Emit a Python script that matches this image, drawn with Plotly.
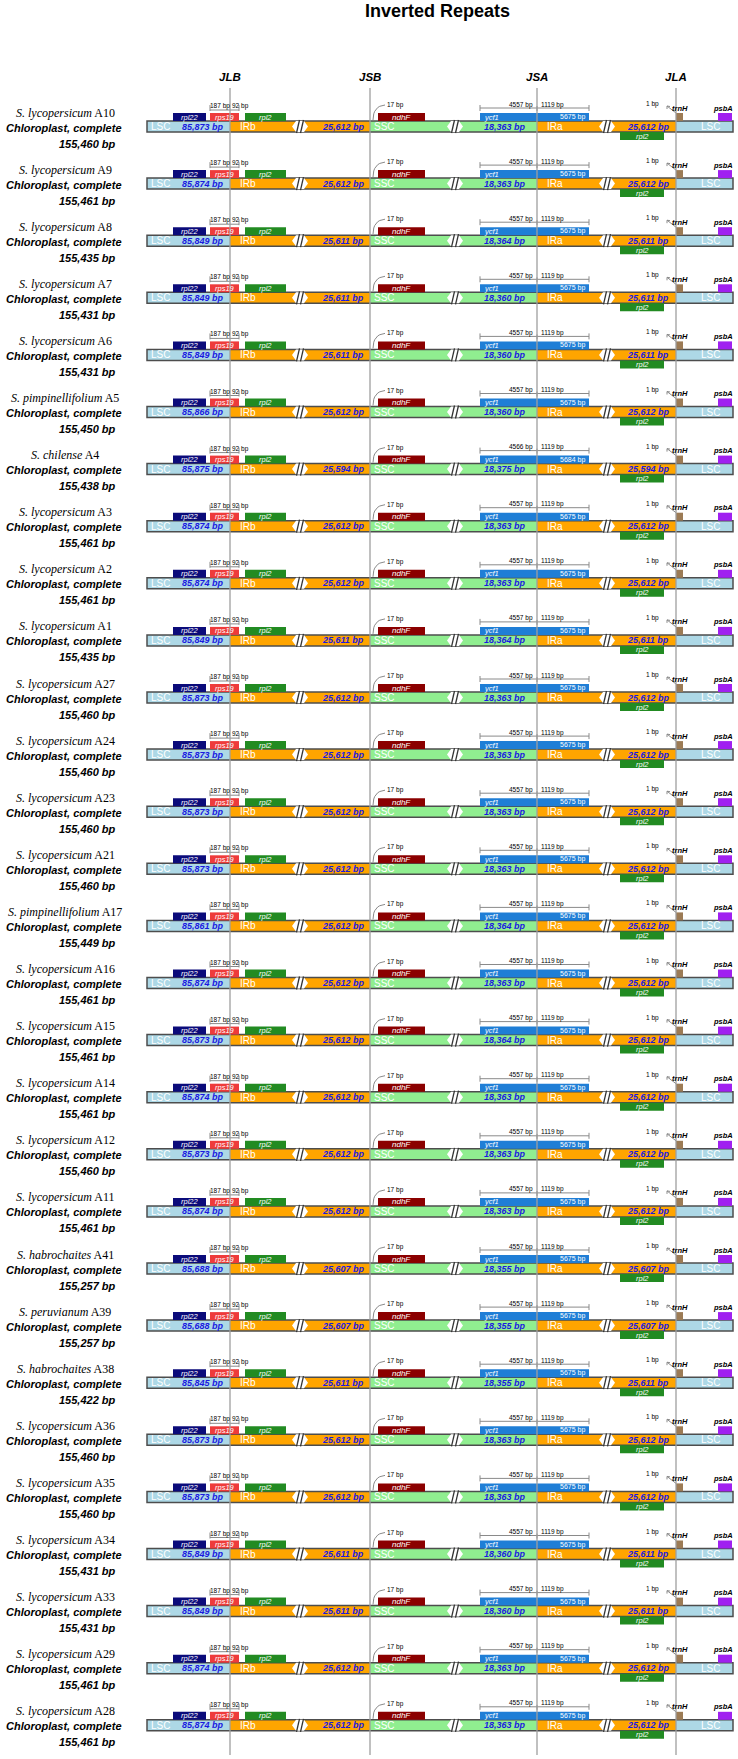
import plotly.graph_objects as go

# ---- data (top row first) ----
species = [
    "S. lycopersicum", "S. lycopersicum", "S. lycopersicum", "S. lycopersicum", "S. lycopersicum",
    "S. pimpinellifolium", "S. chilense", "S. lycopersicum", "S. lycopersicum", "S. lycopersicum",
    "S. lycopersicum", "S. lycopersicum", "S. lycopersicum", "S. lycopersicum", "S. pimpinellifolium",
    "S. lycopersicum", "S. lycopersicum", "S. lycopersicum", "S. lycopersicum", "S. lycopersicum",
    "S. habrochaites", "S. peruvianum", "S. habrochaites", "S. lycopersicum", "S. lycopersicum",
    "S. lycopersicum", "S. lycopersicum", "S. lycopersicum", "S. lycopersicum",
]
accessions = ["A10", "A9", "A8", "A7", "A6", "A5", "A4", "A3", "A2", "A1",
              "A27", "A24", "A23", "A21", "A17", "A16", "A15", "A14", "A12", "A11",
              "A41", "A39", "A38", "A36", "A35", "A34", "A33", "A29", "A28"]
genome_bp = [155460, 155461, 155435, 155431, 155431, 155450, 155438, 155461, 155461, 155435,
             155460, 155460, 155460, 155460, 155449, 155461, 155461, 155461, 155460, 155461,
             155257, 155257, 155422, 155460, 155460, 155431, 155431, 155461, 155461]
lsc_bp = [85873, 85874, 85849, 85849, 85849, 85866, 85875, 85874, 85874, 85849,
          85873, 85873, 85873, 85873, 85861, 85874, 85873, 85874, 85873, 85874,
          85688, 85688, 85845, 85873, 85873, 85849, 85849, 85874, 85874]
irb_bp = [25612, 25612, 25611, 25611, 25611, 25612, 25594, 25612, 25612, 25611,
          25612, 25612, 25612, 25612, 25612, 25612, 25612, 25612, 25612, 25612,
          25607, 25607, 25611, 25612, 25612, 25611, 25611, 25612, 25612]
ssc_bp = [18363, 18363, 18364, 18360, 18360, 18360, 18375, 18363, 18363, 18364,
          18363, 18363, 18363, 18363, 18364, 18363, 18364, 18363, 18363, 18363,
          18355, 18355, 18355, 18363, 18363, 18360, 18360, 18363, 18363]
ira_bp = [25612, 25612, 25611, 25611, 25611, 25612, 25594, 25612, 25612, 25611,
          25612, 25612, 25612, 25612, 25612, 25612, 25612, 25612, 25612, 25612,
          25607, 25607, 25611, 25612, 25612, 25611, 25611, 25612, 25612]
ycf1_ssc_bp = [4557, 4557, 4557, 4557, 4557, 4557, 4566, 4557, 4557, 4557,
               4557, 4557, 4557, 4557, 4557, 4557, 4557, 4557, 4557, 4557,
               4557, 4557, 4557, 4557, 4557, 4557, 4557, 4557, 4557]
ycf1_ira_bp = [1119, 1119, 1119, 1119, 1119, 1119, 1119, 1119, 1119, 1119,
               1119, 1119, 1119, 1119, 1119, 1119, 1119, 1119, 1119, 1119,
               1119, 1119, 1119, 1119, 1119, 1119, 1119, 1119, 1119]
ycf1_bp = [5675, 5675, 5675, 5675, 5675, 5675, 5684, 5675, 5675, 5675,
           5675, 5675, 5675, 5675, 5675, 5675, 5675, 5675, 5675, 5675,
           5675, 5675, 5675, 5675, 5675, 5675, 5675, 5675, 5675]
rps19_lsc_bp = [187, 187, 187, 187, 187, 187, 187, 187, 187, 187,
                187, 187, 187, 187, 187, 187, 187, 187, 187, 187,
                187, 187, 187, 187, 187, 187, 187, 187, 187]
rps19_irb_bp = [92, 92, 92, 92, 92, 92, 92, 92, 92, 92,
                92, 92, 92, 92, 92, 92, 92, 92, 92, 92,
                92, 92, 92, 92, 92, 92, 92, 92, 92]
ndhf_gap_bp = [17, 17, 17, 17, 17, 17, 17, 17, 17, 17,
               17, 17, 17, 17, 17, 17, 17, 17, 17, 17,
               17, 17, 17, 17, 17, 17, 17, 17, 17]
trnh_gap_bp = [1, 1, 1, 1, 1, 1, 1, 1, 1, 1,
               1, 1, 1, 1, 1, 1, 1, 1, 1, 1,
               1, 1, 1, 1, 1, 1, 1, 1, 1]
junctions = ["JLB", "JSB", "JSA", "JLA"]

# ---- schematic layout (page pixels) ----
W, H = 738, 1759
ROW0, ROW_STEP = 126.5, 57.1
BAR_H, GENE_H = 11, 8
X_START, X_END = 147, 733
J_X = {"JLB": 230, "JSB": 370, "JSA": 537, "JLA": 676}
BREAKS = [300, 455, 607]
SANS = "Liberation Sans, Arial, sans-serif"
SERIF = "Liberation Serif, Times New Roman, serif"

n = len(accessions)
yc = [ROW0 + ROW_STEP * i for i in range(n)]
top = [y - BAR_H / 2 for y in yc]
bot = [y + BAR_H / 2 for y in yc]
above = [t - GENE_H / 2 for t in top]
below = [b + GENE_H / 2 for b in bot]

fig = go.Figure()


def hbar(x0, x1, ys, color, width, line_color=None, line_width=0):
    fig.add_trace(go.Bar(
        orientation="h", y=ys, base=[x0] * len(ys), x=[x1 - x0] * len(ys),
        width=width, marker=dict(color=color, line=dict(color=line_color or color, width=line_width)),
        hoverinfo="skip", showlegend=False))


def lines(xs, ys, color, width):
    fig.add_trace(go.Scatter(x=xs, y=ys, mode="lines", line=dict(color=color, width=width),
                             hoverinfo="skip", showlegend=False))


ann = []


def note(x, y, txt, anchor, size, color="black", family=SANS):
    ann.append(dict(x=x, y=y, xref="x", yref="y", text=txt, showarrow=False, xanchor=anchor,
                    yanchor="middle", font=dict(size=size, color=color, family=family)))


# region segments
LSC_C, IR_C, SSC_C = "#ADD8E6", "#FFA500", "#90EE90"
hbar(X_START, J_X["JLB"], yc, LSC_C, BAR_H)
hbar(J_X["JLB"], J_X["JSB"], yc, IR_C, BAR_H)
hbar(J_X["JSB"], J_X["JSA"], yc, SSC_C, BAR_H)
hbar(J_X["JSA"], J_X["JLA"], yc, IR_C, BAR_H)
hbar(J_X["JLA"], X_END, yc, LSC_C, BAR_H)

# break symbols  <//>
px, py, sx, sy = [], [], [], []
for t, b, c in zip(top, bot, yc):
    for k in BREAKS:
        px += [k - 8, k - 4, k + 4, k + 8, k + 4, k - 4, k - 8, None]
        py += [c, t, t, c, b, b, c, None]
        sx += [k - 3.5, k - 0.5, None, k + 0.5, k + 3.5, None]
        sy += [b + 1, t - 1, None, b + 1, t - 1, None]
fig.add_trace(go.Scatter(x=px, y=py, mode="lines", fill="toself", fillcolor="white",
                         line=dict(width=0, color="white"), hoverinfo="skip", showlegend=False))
lines(sx, sy, "#333333", 1.3)

# outline of the whole bar
hbar(X_START, X_END, yc, "rgba(0,0,0,0)", BAR_H, "#4d4d4d", 1.5)

# genes
genes_above = [("rpl22", 173, 206, "#0B0B7A"), ("rps19", 210, 239, "#EE3B3B"),
               ("rpl2", 245, 286, "#228B22"), ("ndhF", 378, 425, "#8B0000"),
               ("ycf1", 480, 589, "#1F7ED6"), ("trnH", 676, 683, "#9C7B55"),
               ("psbA", 718, 732, "#A020F0")]
for name, x0, x1, col in genes_above:
    hbar(x0, x1, above, col, GENE_H)
hbar(620, 664, below, "#228B22", GENE_H)

# brackets above rps19 and ycf1, arrows for ndhF / trnH
bx, by = [], []
for t in top:
    yl = t - 11
    bx += [210, 239, None, 210, 210, None, 239, 239, None]
    by += [yl, yl, None, yl - 5, yl + 1, None, yl - 5, yl + 1, None]
    yl = t - 13
    bx += [480, 589, None, 480, 480, None, 589, 589, None, 537, 537, None]
    by += [yl, yl, None, yl - 3, yl + 3, None, yl - 3, yl + 3, None, yl - 2, yl + 3, None]
    for s in range(9):
        u = s / 8
        bx.append((1 - u) ** 2 * 373 + 2 * (1 - u) * u * 373 + u * u * 385)
        by.append((1 - u) ** 2 * (t - 1) + 2 * (1 - u) * u * (t - 15) + u * u * (t - 16))
    bx.append(None); by.append(None)
    bx += [667, 676, None, 667, 670, None, 667, 667, None]
    by += [t - 15, t - 8, None, t - 15, t - 14.5, None, t - 15, t - 12, None]
lines(bx, by, "#8a8a8a", 1)

for i in range(n):
    c, t = yc[i], top[i]
    a, b = c - GENE_H / 2 - BAR_H / 2, c + GENE_H / 2 + BAR_H / 2
    note(65, c - 14, "<i>%s</i> %s" % (species[i], accessions[i]), "center", 12, family=SERIF)
    note(64, c + 1, "<b><i>Chloroplast, complete</i></b>", "center", 11)
    note(118, c + 17, "<b><i>%s bp</i></b>" % f"{genome_bp[i]:,}", "right", 11)
    note(149, c, "LSC", "left", 10, "white")
    note(203, c, "<b><i>%s bp</i></b>" % f"{lsc_bp[i]:,}", "center", 9, "#1a1ae0")
    note(238, c, "IRb", "left", 10, "white")
    note(343, c, "<b><i>%s bp</i></b>" % f"{irb_bp[i]:,}", "center", 9, "#1a1ae0")
    note(372, c, "SSC", "left", 10, "white")
    note(505, c, "<b><i>%s bp</i></b>" % f"{ssc_bp[i]:,}", "center", 9, "#1a1ae0")
    note(545, c, "IRa", "left", 10, "white")
    note(648, c, "<b><i>%s bp</i></b>" % f"{ira_bp[i]:,}", "center", 9, "#1a1ae0")
    note(710, c, "LSC", "center", 10, "white")
    note(189.5, a, "<i>rpl22</i>", "center", 7.5, "white")
    note(224.5, a, "<i>rps19</i>", "center", 7.5, "white")
    note(265.5, a, "<i>rpl2</i>", "center", 7.5, "white")
    note(401.5, a, "<i>ndhF</i>", "center", 8, "white")
    note(642, b, "<i>rpl2</i>", "center", 7.5, "white")
    note(482, a, "<i>ycf1</i>", "left", 7.5, "white")
    note(587, a, "%d bp" % ycf1_bp[i], "right", 7, "white")
    note(208, t - 15, "%d bp" % rps19_lsc_bp[i], "left", 6.5)
    note(230, t - 15, "%d bp" % rps19_irb_bp[i], "left", 6.5)
    note(385, t - 16, "%d bp" % ndhf_gap_bp[i], "left", 6.5)
    note(535, t - 16.5, "%d bp" % ycf1_ssc_bp[i], "right", 6.5)
    note(539, t - 16.5, "%d bp" % ycf1_ira_bp[i], "left", 6.5)
    note(644, t - 17, "%d bp" % trnh_gap_bp[i], "left", 6.5)
    note(670, t - 13, "<b><i>trnH</i></b>", "left", 7.5)
    note(735, t - 13, "<b><i>psbA</i></b>", "right", 7.5)

# junction lines and headers
jx, jy = [], []
for j in junctions:
    jx += [J_X[j], J_X[j], None]
    jy += [88, 1755, None]
    note(J_X[j], 77, "<b><i>%s</i></b>" % j, "center", 11.5)
lines(jx, jy, "#9e9e9e", 1.3)

note(437, 11, "<b>Inverted Repeats</b>", "center", 18)

fig.update_layout(
    width=W, height=H, margin=dict(l=0, r=0, t=0, b=0),
    paper_bgcolor="white", plot_bgcolor="white", barmode="overlay",
    xaxis=dict(range=[0, W], visible=False, fixedrange=True),
    yaxis=dict(range=[H, 0], visible=False, fixedrange=True),
    annotations=ann, showlegend=False,
)
fig.write_html("out.html", config={"displayModeBar": False},
               post_script="document.body.style.margin='0';")
